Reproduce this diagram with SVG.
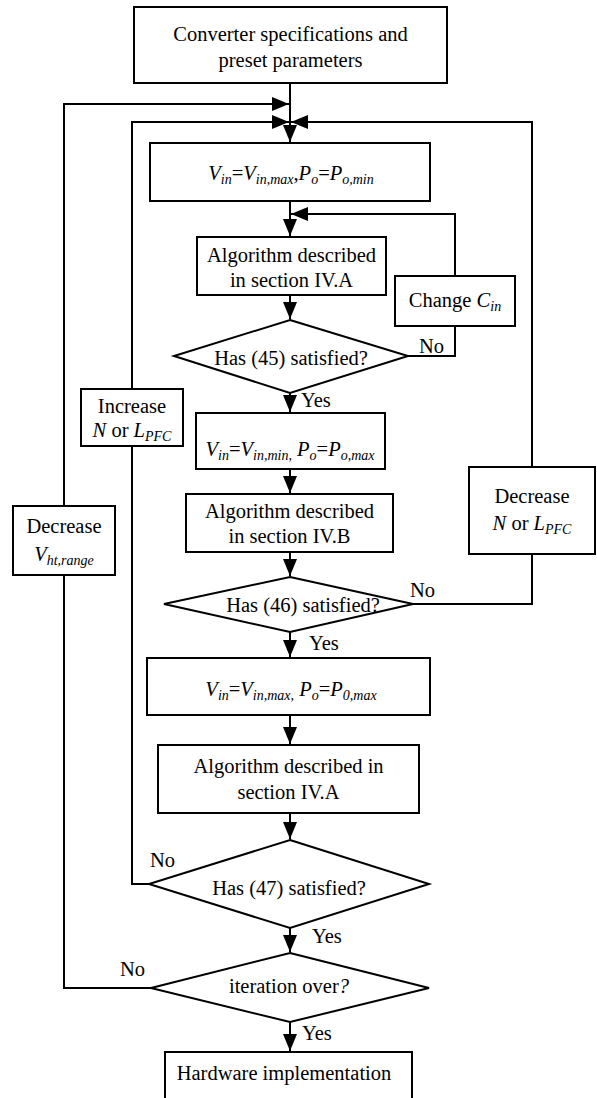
<svg xmlns="http://www.w3.org/2000/svg" width="597" height="1098" viewBox="0 0 597 1098" font-family="'Liberation Serif', 'Times New Roman', Tinos, 'DejaVu Serif', serif">
<style>
.b{fill:#fff;stroke:#000;stroke-width:2}
.c{fill:none;stroke:#000;stroke-width:2}
text{font-family:'Liberation Serif','Times New Roman',Tinos,'DejaVu Serif',serif;font-size:20.5px;fill:#000;text-anchor:middle}
.i{font-style:italic}
.s{font-size:14px;font-style:italic}
.l{text-anchor:start}
</style>
<defs>
<marker id="a" markerUnits="userSpaceOnUse" markerWidth="18" markerHeight="14" refX="17" refY="7" orient="auto">
<path d="M0,0 L17,7 L0,14 z" fill="#000"/>
</marker>
</defs>
<rect width="597" height="1098" fill="#fff"/>
<g id="connectors">
<path class="c" d="M290,83 V142" marker-end="url(#a)"/>
<path class="c" d="M64,506 V104 H289" marker-end="url(#a)"/>
<path class="c" d="M132,389 V122 H289" marker-end="url(#a)"/>
<path class="c" d="M532,467 V122 H291" marker-end="url(#a)"/>
<path class="c" d="M290,201 V236" marker-end="url(#a)"/>
<path class="c" d="M455,276 V214 H291" marker-end="url(#a)"/>
<path class="c" d="M408,356 H455 V326"/>
<path class="c" d="M290,295 V319" marker-end="url(#a)"/>
<path class="c" d="M290,393 V412" marker-end="url(#a)"/>
<path class="c" d="M290,469 V493" marker-end="url(#a)"/>
<path class="c" d="M290,552 V576" marker-end="url(#a)"/>
<path class="c" d="M413,604 H532 V554"/>
<path class="c" d="M290,632 V657" marker-end="url(#a)"/>
<path class="c" d="M290,715 V744" marker-end="url(#a)"/>
<path class="c" d="M290,813 V839" marker-end="url(#a)"/>
<path class="c" d="M149,884 H132 V446"/>
<path class="c" d="M290,928 V952" marker-end="url(#a)"/>
<path class="c" d="M151,988 H64 V575"/>
<path class="c" d="M290,1022 V1051" marker-end="url(#a)"/>
<text class="l" x="419" y="353">No</text>
<text class="l" x="301" y="407">Yes</text>
<text class="l" x="410" y="597">No</text>
<text class="l" x="309" y="650">Yes</text>
<text class="l" x="150" y="867">No</text>
<text class="l" x="312" y="943">Yes</text>
<text class="l" x="120" y="976">No</text>
<text class="l" x="302" y="1040">Yes</text>
</g>
<g id="start">
<rect class="b" x="134" y="7" width="313" height="76"/>
<text x="290.5" y="41">Converter specifications and</text>
<text x="290.5" y="67">preset parameters</text>
</g>
<g id="vin1">
<rect class="b" x="150" y="143" width="280" height="58"/>
<text x="291" y="180"><tspan class="i">V</tspan><tspan class="s" dy="4">in</tspan><tspan dy="-4">=</tspan><tspan class="i">V</tspan><tspan class="s" dy="4">in,max</tspan><tspan dy="-4">,</tspan><tspan class="i">P</tspan><tspan class="s" dy="4">o</tspan><tspan dy="-4">=</tspan><tspan class="i">P</tspan><tspan class="s" dy="4">o,min</tspan></text>
</g>
<g id="alg1">
<rect class="b" x="197" y="237" width="189" height="58"/>
<text x="291.5" y="262">Algorithm described</text>
<text x="291.5" y="287">in section IV.A</text>
</g>
<g id="changeCin">
<rect class="b" x="395" y="276" width="120" height="50"/>
<text x="455" y="307">Change <tspan class="i">C</tspan><tspan class="s" dy="4">in</tspan></text>
</g>
<g id="d45">
<polygon class="b" points="290,320 408,356 290,393 174,356"/>
<text x="291" y="365">Has (45) satisfied?</text>
</g>
<g id="increase">
<rect class="b" x="81" y="389" width="102" height="57"/>
<text x="132" y="413">Increase</text>
<text x="132" y="437"><tspan class="i">N</tspan> or <tspan class="i">L</tspan><tspan class="s" dy="4">PFC</tspan></text>
</g>
<g id="decreaseV">
<rect class="b" x="13" y="506" width="102" height="69"/>
<text x="64" y="533">Decrease</text>
<text x="64" y="561"><tspan class="i">V</tspan><tspan class="s" dy="4">ht,range</tspan></text>
</g>
<g id="decreaseN">
<rect class="b" x="469" y="467" width="126" height="87"/>
<text x="532" y="503">Decrease</text>
<text x="532" y="530"><tspan class="i">N</tspan> or <tspan class="i">L</tspan><tspan class="s" dy="4">PFC</tspan></text>
</g>
<g id="vin2">
<rect class="b" x="196" y="413" width="189" height="56"/>
<text x="290" y="456"><tspan class="i">V</tspan><tspan class="s" dy="4">in</tspan><tspan dy="-4">=</tspan><tspan class="i">V</tspan><tspan class="s" dy="4">in,min,</tspan><tspan dy="-4"> </tspan><tspan class="i">P</tspan><tspan class="s" dy="4">o</tspan><tspan dy="-4">=</tspan><tspan class="i">P</tspan><tspan class="s" dy="4">o,max</tspan></text>
</g>
<g id="alg2">
<rect class="b" x="186" y="494" width="207" height="58"/>
<text x="289.5" y="518">Algorithm described</text>
<text x="289.5" y="543">in section IV.B</text>
</g>
<g id="d46">
<polygon class="b" points="290,577 413,604 290,632 164,604"/>
<text x="303" y="612">Has (46) satisfied?</text>
</g>
<g id="vin3">
<rect class="b" x="147" y="658" width="283" height="57"/>
<text x="291" y="696"><tspan class="i">V</tspan><tspan class="s" dy="4">in</tspan><tspan dy="-4">=</tspan><tspan class="i">V</tspan><tspan class="s" dy="4">in,max,</tspan><tspan dy="-4"> </tspan><tspan class="i">P</tspan><tspan class="s" dy="4">o</tspan><tspan dy="-4">=</tspan><tspan class="i">P</tspan><tspan class="s" dy="4">0,max</tspan></text>
</g>
<g id="alg3">
<rect class="b" x="158" y="745" width="261" height="68"/>
<text x="288.5" y="773">Algorithm described in</text>
<text x="288.5" y="799">section IV.A</text>
</g>
<g id="d47">
<polygon class="b" points="290,840 429,884 290,928 149,884"/>
<text x="289" y="895">Has (47) satisfied?</text>
</g>
<g id="iter">
<polygon class="b" points="290,953 429,988 290,1022 151,988"/>
<text x="289" y="993">iteration over<tspan class="i">?</tspan></text>
</g>
<g id="hardware">
<rect class="b" x="165" y="1052" width="247" height="60"/>
<text x="284" y="1080">Hardware implementation</text>
</g>
</svg>
